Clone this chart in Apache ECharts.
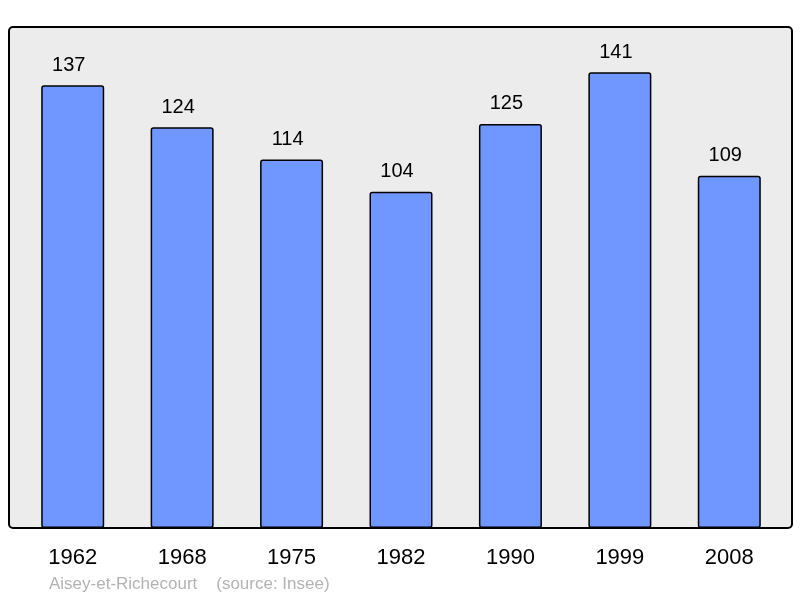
<!DOCTYPE html>
<html>
<head>
<meta charset="utf-8">
<script src="https://cdn.jsdelivr.net/npm/echarts@6/dist/echarts.min.js"></script>
<style>html,body{margin:0;padding:0;background:#fff;}#c{width:800px;height:598px;}</style>
</head>
<body>
<div id="c"></div>
<script>
const years = ['1962', '1968', '1975', '1982', '1990', '1999', '2008'];
const population = [137, 124, 114, 104, 125, 141, 109];
const sourceText = 'Aisey-et-Richecourt    (source: Insee)';

const chart = echarts.init(document.getElementById('c'), null, {renderer: 'canvas'});
chart.setOption({
  animation: false,
  backgroundColor: '#ffffff',
  textStyle: {fontFamily: 'Liberation Sans, Arial, sans-serif'},
  graphic: [
    {type: 'rect', z: -10, shape: {x: 9, y: 27, width: 783, height: 501, r: 4},
     style: {fill: '#ececec', stroke: '#000', lineWidth: 2}},
    {type: 'text', left: 49, top: 576,
     style: {text: sourceText, fill: '#b3b3b3', font: '17px "Liberation Sans", Arial, sans-serif'}}
  ],
  grid: {left: 18, right: 16, top: 27, bottom: 70},
  xAxis: {
    type: 'category', data: years,
    axisLine: {show: false}, axisTick: {show: false},
    axisLabel: {color: '#000', fontSize: 22, margin: 19, fontFamily: 'Liberation Sans, Arial, sans-serif'}
  },
  yAxis: {
    type: 'value', min: 0, max: 155,
    show: false, splitLine: {show: false}
  },
  series: [{
    type: 'bar', data: population, barWidth: 63,
    itemStyle: {color: '#7096ff', borderColor: '#000', borderWidth: 1.5, borderRadius: 2},
    label: {show: true, position: 'top', distance: 10, offset: [-4, 0], color: '#000', fontSize: 20,
            fontFamily: 'Liberation Sans, Arial, sans-serif'}
  }]
});
</script>
</body>
</html>
